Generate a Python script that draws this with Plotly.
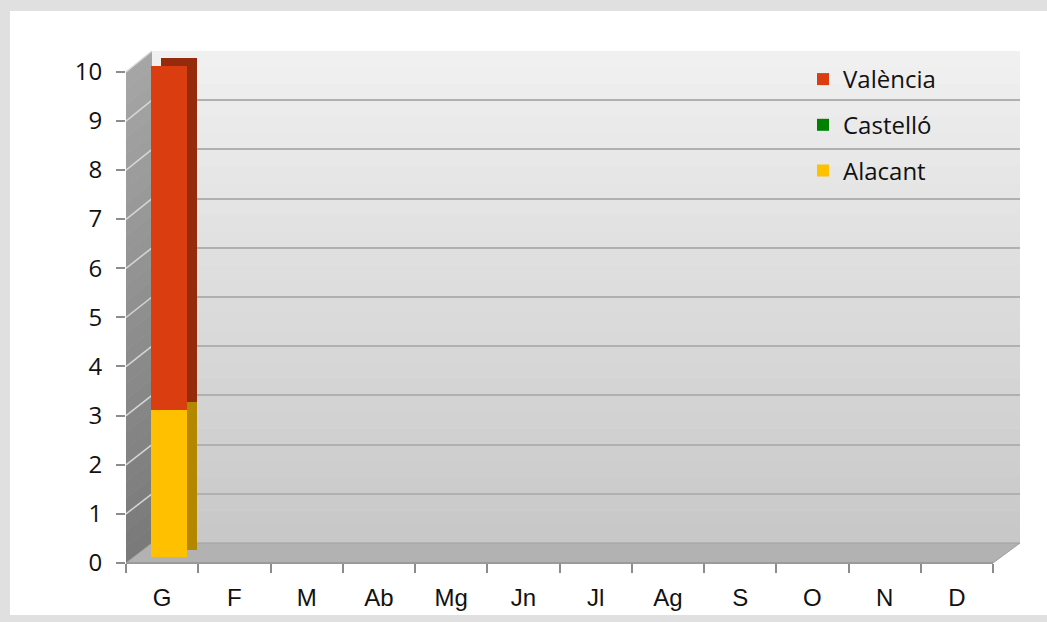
import plotly.graph_objects as go

months = ["G", "F", "M", "Ab", "Mg", "Jn", "Jl", "Ag", "S", "O", "N", "D"]
valencia = [7, 0, 0, 0, 0, 0, 0, 0, 0, 0, 0, 0]
castello = [0, 0, 0, 0, 0, 0, 0, 0, 0, 0, 0, 0]
alacant = [3, 0, 0, 0, 0, 0, 0, 0, 0, 0, 0, 0]
y_ticks = list(range(0, 11))

W, H = 1047, 622


def px(x):
    return x / W


def py(y):
    return 1 - y / H


def dom_x(a, b):
    return [px(a), px(b)]


def dom_y(top, bottom):
    return [py(bottom), py(top)]


def mix(c1, c2, t):
    return "#%02x%02x%02x" % tuple(int(round(a + (b - a) * t)) for a, b in zip(c1, c2))


FONT = "Liberation Sans, Arial, sans-serif"
FONT2 = "Open Sans, Liberation Sans, sans-serif"

fig = go.Figure()

# helper trace so the back wall subplot (with its grid) is drawn
fig.add_trace(go.Scatter(x=months, y=castello, mode="markers", marker=dict(opacity=0), showlegend=False,
                         hoverinfo="skip", xaxis="x", yaxis="y"))

# depth (side/top) faces of the columns, drawn behind the fronts
for name, vals, col in (("Alacant", alacant, "#b38700"), ("Castelló", castello, "#005a00"), ("València", valencia, "#952a0c")):
    fig.add_trace(go.Bar(x=months, y=vals, marker=dict(color=col, line=dict(width=0)), width=0.5,
                         showlegend=False, hoverinfo="skip", xaxis="x2", yaxis="y2"))

# front faces
series = (("Alacant", alacant, "#ffc000", 3), ("Castelló", castello, "#008000", 2), ("València", valencia, "#d93d10", 1))
for name, vals, col, rank in series:
    fig.add_trace(go.Bar(x=months, y=vals, name=name, marker=dict(color=col, line=dict(width=0)), width=0.5,
                         legendgroup=name, legendrank=rank, xaxis="x3", yaxis="y3"))

# helper trace so the front axis carries the category labels
fig.add_trace(go.Scatter(x=months, y=castello, mode="markers", marker=dict(opacity=0), showlegend=False,
                         hoverinfo="skip", xaxis="x4", yaxis="y4"))

shapes = []
# outer frame
shapes.append(dict(type="rect", xref="paper", yref="paper", x0=px(10), x1=px(1047), y0=py(615), y1=py(11),
                   fillcolor="white", line=dict(width=0), layer="below"))

# back wall gradient
n = 30
top, bot = 51, 543
for i in range(n):
    y0 = top + (bot - top) * i / n
    y1 = top + (bot - top) * (i + 1) / n
    shapes.append(dict(type="rect", xref="paper", yref="paper", x0=px(152), x1=px(1020), y0=py(y1 + 0.5), y1=py(y0),
                       fillcolor=mix((240, 240, 240), (200, 200, 200), i / (n - 1)), line=dict(width=0), layer="below"))

# left wall gradient
for i in range(n):
    f0, f1 = i / n, (i + 1) / n
    yf0, yf1 = 72 + (563 - 72) * f0, 72 + (563 - 72) * (f1) + 0.5
    yb0, yb1 = 51 + (543 - 51) * f0, 51 + (543 - 51) * (f1) + 0.5
    path = "M %f %f L %f %f L %f %f L %f %f Z" % (px(126), py(yf0), px(152), py(yb0), px(152), py(yb1), px(126), py(yf1))
    shapes.append(dict(type="path", xref="paper", yref="paper", path=path,
                       fillcolor=mix((165, 165, 165), (122, 122, 122), i / (n - 1)), line=dict(width=0), layer="below"))

# left wall grid lines
for v in y_ticks[1:]:
    yf = 563 - (563 - 72) * v / 10
    yb = 543 - (543 - 51) * v / 10
    shapes.append(dict(type="line", xref="paper", yref="paper", x0=px(126), y0=py(yf), x1=px(152), y1=py(yb),
                       line=dict(color="#d6d6d6", width=1.5), layer="below"))

# floor
path = "M %f %f L %f %f L %f %f L %f %f Z" % (px(126), py(563), px(993), py(563), px(1020), py(543), px(152), py(543))
shapes.append(dict(type="path", xref="paper", yref="paper", path=path, fillcolor="#b2b2b2",
                   line=dict(color="#a0a0a0", width=1), layer="below"))
shapes.append(dict(type="line", xref="paper", yref="paper", x0=px(126), y0=py(563), x1=px(993), y1=py(563),
                   line=dict(color="#9a9a9a", width=2), layer="below"))

hidden = dict(showgrid=False, showticklabels=False, ticks="", zeroline=False, showline=False, fixedrange=True)

fig.update_layout(
    width=W, height=H, autosize=False,
    margin=dict(l=0, r=0, t=0, b=0),
    paper_bgcolor="#e0e0e0", plot_bgcolor="rgba(0,0,0,0)",
    barmode="stack", bargap=0.5,
    font=dict(family=FONT, color="#111111"),
    shapes=shapes,
    # back wall with horizontal grid
    xaxis=dict(domain=dom_x(152, 1020), range=[-0.5, 11.5], type="category", categoryarray=months, **hidden),
    yaxis=dict(domain=dom_y(51, 543), range=[0, 10], tickvals=y_ticks, showgrid=True, gridcolor="#b0b0b0", gridwidth=2,
               showticklabels=False, ticks="", zeroline=False, showline=False, fixedrange=True, anchor="x"),
    # depth faces
    xaxis2=dict(domain=dom_x(143, 1010), range=[-0.5, 11.5], type="category", categoryarray=months, anchor="y2", **hidden),
    yaxis2=dict(domain=dom_y(58, 550), range=[0, 10], anchor="x2", **hidden),
    # front faces
    xaxis3=dict(domain=dom_x(133, 1000), range=[-0.5, 11.5], type="category", categoryarray=months, anchor="y3", **hidden),
    yaxis3=dict(domain=dom_y(65.7, 557.3), range=[0, 10], anchor="x3", **hidden),
    # front axes with ticks and labels
    xaxis4=dict(domain=dom_x(126, 993), range=[-0.5, 11.5], type="category", categoryarray=months, anchor="y4",
                tickson="boundaries", ticks="outside", ticklen=9, tickcolor="#8c8c8c", tickwidth=2,
                showgrid=False, zeroline=False, showline=False, fixedrange=True, automargin=False,
                tickfont=dict(size=24, family=FONT, color="#111111"), ticklabelstandoff=18),
    yaxis4=dict(domain=dom_y(71.7, 563), range=[0, 10], tickvals=y_ticks, anchor="x4",
                ticks="outside", ticklen=9, tickcolor="#8c8c8c", tickwidth=2,
                showgrid=False, zeroline=False, showline=False, fixedrange=True, automargin=False,
                tickfont=dict(size=24, family=FONT2, color="#111111"), ticklabelstandoff=9),
    legend=dict(x=px(803), y=py(57), xanchor="left", yanchor="top", bgcolor="rgba(0,0,0,0)",
                font=dict(size=24, family=FONT2, color="#111111"), traceorder="grouped", tracegroupgap=11.5,
                itemwidth=30),
    showlegend=True,
)

fig.write_html("out.html", config={"displayModeBar": False},
               post_script="document.body.style.margin='0px';")
